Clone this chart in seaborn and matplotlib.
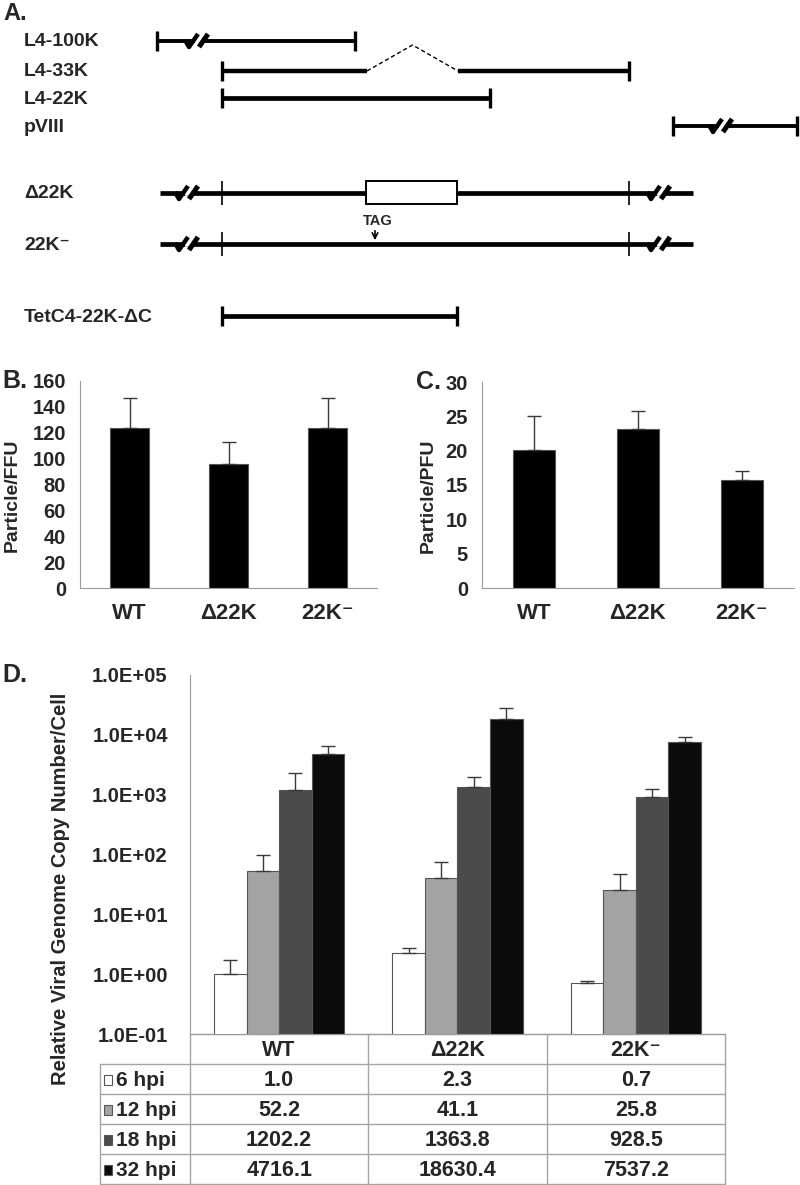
"""Figure: L4-22K mutant map, particle/infectivity ratios and viral genome replication"""

import matplotlib
matplotlib.use("Agg")
import matplotlib.pyplot as plt
from matplotlib.patches import Rectangle
from matplotlib.ticker import FuncFormatter, NullLocator
import numpy as np
import pandas as pd
import seaborn as sns

# ---------------- data ----------------
strains = ["WT", "\u039422K", "22K\u207b"]

ffu_mean = [124, 96, 124]
ffu_err = [23, 17, 23]
pfu_mean = [20.1, 23.2, 15.8]
pfu_err = [4.9, 2.6, 1.2]

timepoints = ["6 hpi", "12 hpi", "18 hpi", "32 hpi"]
tp_colors = ["#ffffff", "#a3a3a3", "#4b4b4b", "#0b0b0b"]
copy_wt = [1.0, 52.2, 1202.2, 4716.1]
copy_d22k = [2.3, 41.1, 1363.8, 18630.4]
copy_22kminus = [0.7, 25.8, 928.5, 7537.2]
# upper end of the error bars
copy_top_wt = [1.7, 100, 2330, 6550]
copy_top_d22k = [2.7, 75, 2000, 28200]
copy_top_22kminus = [0.76, 47, 1260, 9260]

# panel A scheme (positions along the genome map, in map units)
map_labels = ["L4-100K", "L4-33K", "L4-22K", "pVIII",
              "\u039422K", "22K\u207b", "TetC4-22K-\u0394C"]
map_rows_y = [41, 71, 98, 126, 193, 244, 316]
map_spans = [(157, 355), (222, 629), (222, 490), (673, 797),
             (160, 693), (160, 693), (222, 457)]
map_end_ticks = [True, True, True, True, False, False, True]
map_breaks = [[183], [], [], [707], [173, 645], [173, 645], []]
intron = (367, 458)
deletion = (366, 457)
inner_ticks = [222, 629]
tag_pos = 375

# ---------------- style ----------------
sns.set_style("white")
plt.rcParams["font.family"] = ["Liberation Sans", "DejaVu Sans"]
plt.rcParams["font.weight"] = "bold"
plt.rcParams["axes.labelweight"] = "bold"

W, H = 800, 1185
fig = plt.figure(figsize=(8, 11.85), dpi=100)


def rect(x0, y0, x1, y1):
    return [x0 / W, 1 - y1 / H, (x1 - x0) / W, (y1 - y0) / H]


over = fig.add_axes([0, 0, 1, 1], zorder=0)
over.set_xlim(0, W)
over.set_ylim(H, 0)
over.axis("off")

# ---------------- panel A ----------------
def hline(x0, x1, y, lw=3.2):
    over.plot([x0, x1], [y, y], color="black", lw=lw, solid_capstyle="butt")


def vtick(x, y, half=10, lw=2.4):
    over.plot([x, x], [y - half, y + half], color="black", lw=lw,
              solid_capstyle="butt")


def brk(x, y):
    # gap in the line plus two slanted strokes
    over.plot([x + 12, x + 19], [y, y], color="white", lw=4, solid_capstyle="butt")
    over.plot([x + 2, x + 6, x + 15], [y - 1, y + 6, y - 7], color="black", lw=3.2,
              solid_capstyle="butt")
    over.plot([x + 16, x + 25], [y + 6, y - 7], color="black", lw=3.6,
              solid_capstyle="butt")


over.text(3, 14, "A.", fontsize=17, fontweight="bold", va="center")
for i, (lab, y) in enumerate(zip(map_labels, map_rows_y)):
    over.text(24, y + 1, lab, fontsize=14, fontweight="bold", va="center")
    x0, x1 = map_spans[i]
    if lab == "L4-33K":
        hline(x0, intron[0], y)
        hline(intron[1], x1, y)
        over.plot([intron[0], (intron[0] + intron[1]) / 2, intron[1]],
                  [y, y - 26, y], color="black", lw=1, ls=(0, (3, 2)))
    else:
        hline(x0, x1, y, lw=2.8 if i in (0, 3) else 3.4)
    if map_end_ticks[i]:
        vtick(x0, y)
        vtick(x1, y)
    for b in map_breaks[i]:
        brk(b, y)
    if i in (4, 5):
        for t in inner_ticks:
            vtick(t, y, half=12, lw=1.2)
    if i == 4:
        over.add_patch(Rectangle((deletion[0], y - 12), deletion[1] - deletion[0], 23,
                                 facecolor="white", edgecolor="black", lw=1.4, zorder=3))
    if i == 5:
        over.text(tag_pos + 3, y - 23, "TAG", fontsize=10.5, fontweight="bold",
                  ha="center", va="center")
        over.annotate("", xy=(tag_pos, y - 1), xytext=(tag_pos, y - 16),
                      arrowprops=dict(arrowstyle="->", lw=1.2, color="black"))

# ---------------- panels B and C ----------------
def style_bars(ax, ymax, step, ylabel, label_x, pad):
    ax.set_ylim(0, ymax)
    ax.set_xlim(-0.5, 2.5)
    ax.set_yticks(np.arange(0, ymax + 1, step))
    ax.set_xticks([0, 1, 2])
    ax.set_xticklabels(strains)
    ax.set_xticks([-0.5, 0.5, 1.5, 2.5], minor=True)
    ax.tick_params(axis="x", which="major", length=0, pad=11, labelsize=16)
    ax.tick_params(axis="x", which="minor", length=5, color="#9a9a9a")
    ax.tick_params(axis="y", length=5, color="#9a9a9a", labelsize=14.5, pad=pad)
    for s in ["top", "right"]:
        ax.spines[s].set_visible(False)
    for s in ["left", "bottom"]:
        ax.spines[s].set_color("#9a9a9a")
    ax.set_xlabel("")
    ax.set_ylabel(ylabel, fontsize=14, fontweight="bold")
    ax.yaxis.set_label_coords(label_x, 0.45)
    ax.patch.set_alpha(0)


axB = fig.add_axes(rect(80, 381, 377, 588), zorder=2)
dfB = pd.DataFrame({"strain": strains, "ratio": ffu_mean})
sns.barplot(data=dfB, x="strain", y="ratio", color="black", width=0.4,
            saturation=1, edgecolor="#555555", linewidth=0.8, errorbar=None, ax=axB)
axB.errorbar(range(3), ffu_mean, yerr=[np.zeros(3), ffu_err], fmt="none",
             ecolor="#3a3a3a", elinewidth=1, capsize=5, capthick=1)
style_bars(axB, 160, 20, "Particle/FFU", -0.2, 5)
fig.text(2 / W, 1 - 381 / H, "B.", fontsize=18, fontweight="bold", va="center")

axC = fig.add_axes(rect(482, 382, 794, 588), zorder=2)
dfC = pd.DataFrame({"strain": strains, "ratio": pfu_mean})
sns.barplot(data=dfC, x="strain", y="ratio", color="black", width=0.41,
            saturation=1, edgecolor="#555555", linewidth=0.8, errorbar=None, ax=axC)
axC.errorbar(range(3), pfu_mean, yerr=[np.zeros(3), pfu_err], fmt="none",
             ecolor="#3a3a3a", elinewidth=1, capsize=5, capthick=1)
style_bars(axC, 30, 5, "Particle/PFU", -0.145, 5)
fig.text(416 / W, 1 - 382 / H, "C.", fontsize=18, fontweight="bold", va="center")

# ---------------- panel D ----------------
axD = fig.add_axes(rect(190, 675, 725, 1034), zorder=2)
long = pd.DataFrame({
    "strain": np.repeat(strains, len(timepoints)),
    "tp": timepoints * len(strains),
    "copies": copy_wt + copy_d22k + copy_22kminus,
})
sns.barplot(data=long, x="strain", y="copies", hue="tp", hue_order=timepoints,
            palette=tp_colors, width=0.73, saturation=1, edgecolor="#555555",
            linewidth=0.8, errorbar=None, legend=False, ax=axD)
axD.set_yscale("log")
axD.set_ylim(0.1, 1e5)
axD.set_xlim(-0.5, 2.5)
tops = [copy_top_wt, copy_top_d22k, copy_top_22kminus]
bar_groups = list(axD.containers)
for i, cont in enumerate(bar_groups):
    for j, bar in enumerate(cont.patches):
        xc = bar.get_x() + bar.get_width() / 2
        h = bar.get_height()
        axD.errorbar(xc, h, yerr=[[0], [tops[j][i] - h]], fmt="none",
                     ecolor="#3a3a3a", elinewidth=1, capsize=5, capthick=1)
axD.set_yticks([10.0 ** k for k in range(-1, 6)])
axD.yaxis.set_minor_locator(NullLocator())
axD.yaxis.set_major_formatter(FuncFormatter(lambda v, p: f"{v:.1E}"))
axD.tick_params(axis="y", length=6, color="#9a9a9a", labelsize=14.5, pad=10)
axD.set_xticks([])
axD.set_xlabel("")
for s in ["top", "right"]:
    axD.spines[s].set_visible(False)
for s in ["left", "bottom"]:
    axD.spines[s].set_color("#9a9a9a")
axD.set_ylabel("Relative Viral Genome Copy Number/Cell", fontsize=14.5, fontweight="bold")
axD.yaxis.set_label_coords(-0.225, 0.404)
axD.patch.set_alpha(0)
fig.text(2 / W, 1 - 675 / H, "D.", fontsize=18, fontweight="bold", va="center")

# data table under panel D
grid = "#a5a5a5"
col_edges = np.linspace(190, 725, len(strains) + 1)
row_edges = [1034, 1064, 1094, 1124, 1154, 1184]
left = 100
for k, y in enumerate(row_edges):
    over.plot([190 if k == 0 else left, col_edges[-1]], [y, y], color=grid, lw=1)
for x in col_edges:
    over.plot([x, x], [row_edges[0], row_edges[-1]], color=grid, lw=1)
over.plot([left, left], [row_edges[1], row_edges[-1]], color=grid, lw=1)

centers = (col_edges[:-1] + col_edges[1:]) / 2
for c, s in zip(centers, strains):
    over.text(c, (row_edges[0] + row_edges[1]) / 2 + 1, s, fontsize=15.5,
              fontweight="bold", ha="center", va="center")
values = [copy_wt, copy_d22k, copy_22kminus]
for r, tp in enumerate(timepoints):
    yc = (row_edges[r + 1] + row_edges[r + 2]) / 2 + 1
    over.add_patch(Rectangle((104, yc - 5), 8, 10, facecolor=tp_colors[r],
                             edgecolor="#555555", lw=0.8))
    over.text(116, yc, tp, fontsize=15, fontweight="bold", ha="left", va="center")
    for c, vals in zip(centers, values):
        over.text(c, yc, f"{vals[r]:.1f}", fontsize=15.5, fontweight="bold",
                  ha="center", va="center")

fig.savefig("out.png", dpi=100)
